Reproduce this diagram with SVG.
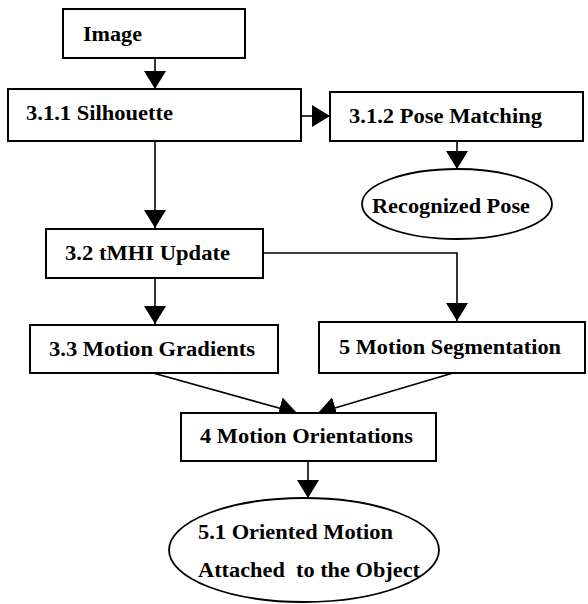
<svg xmlns="http://www.w3.org/2000/svg" width="588" height="604" viewBox="0 0 588 604">
<style>
.box{fill:#fff;stroke:#000;stroke-width:2}
.ell{fill:#fff;stroke:#000;stroke-width:1.8}
.con{fill:none;stroke:#000;stroke-width:1.6}
</style>
<defs>
<marker id="ah" viewBox="0 0 18 22" refX="18" refY="11" markerWidth="18" markerHeight="22" markerUnits="userSpaceOnUse" orient="auto">
<path d="M0,0 L18,11 L0,22 z" fill="#000"/>
</marker>
</defs>
<rect width="588" height="604" fill="#fff"/>
<g id="connectors">
<line class="con" x1="155" y1="58" x2="155" y2="89" marker-end="url(#ah)"/>
<line class="con" x1="301" y1="116" x2="330" y2="116" marker-end="url(#ah)"/>
<line class="con" x1="457" y1="141" x2="457" y2="169" marker-end="url(#ah)"/>
<line class="con" x1="155" y1="141" x2="155" y2="228" marker-end="url(#ah)"/>
<polyline class="con" points="263,253 457,253 457,321" marker-end="url(#ah)"/>
<line class="con" x1="155" y1="278" x2="155" y2="324" marker-end="url(#ah)"/>
<line class="con" x1="153" y1="373" x2="297" y2="413" marker-end="url(#ah)"/>
<line class="con" x1="453" y1="373" x2="318" y2="413" marker-end="url(#ah)"/>
<line class="con" x1="308" y1="461" x2="308" y2="498" marker-end="url(#ah)"/>
</g>
<g id="nodes" font-family="Liberation Serif, Times New Roman, serif" font-weight="bold" font-size="20" fill="#000">
<g id="image">
<rect class="box" x="63" y="9" width="182" height="49"/>
<text x="83" y="41" textLength="59" lengthAdjust="spacingAndGlyphs">Image</text>
</g>
<g id="silhouette">
<rect class="box" x="8" y="89" width="293" height="52"/>
<text x="26" y="120" textLength="147" lengthAdjust="spacingAndGlyphs">3.1.1 Silhouette</text>
</g>
<g id="pose-matching">
<rect class="box" x="330" y="92" width="253" height="49"/>
<text x="349" y="123" textLength="193" lengthAdjust="spacingAndGlyphs">3.1.2 Pose Matching</text>
</g>
<g id="recognized-pose">
<ellipse class="ell" cx="457" cy="204" rx="95" ry="35"/>
<text x="372" y="213" textLength="158" lengthAdjust="spacingAndGlyphs">Recognized Pose</text>
</g>
<g id="tmhi-update">
<rect class="box" x="46" y="229" width="217" height="49"/>
<text x="65" y="260" textLength="165" lengthAdjust="spacingAndGlyphs">3.2 tMHI Update</text>
</g>
<g id="motion-gradients">
<rect class="box" x="30" y="325" width="248" height="48"/>
<text x="49" y="356" textLength="206" lengthAdjust="spacingAndGlyphs">3.3 Motion Gradients</text>
</g>
<g id="motion-segmentation">
<rect class="box" x="319" y="322" width="266" height="51"/>
<text x="339" y="354" textLength="222" lengthAdjust="spacingAndGlyphs">5 Motion Segmentation</text>
</g>
<g id="motion-orientations">
<rect class="box" x="181" y="413" width="255" height="48"/>
<text x="200" y="443" textLength="213" lengthAdjust="spacingAndGlyphs">4 Motion Orientations</text>
</g>
<g id="oriented-motion">
<ellipse class="ell" cx="304" cy="550" rx="135" ry="52"/>
<text x="198" y="539" textLength="195" lengthAdjust="spacingAndGlyphs">5.1 Oriented Motion</text>
<text x="198" y="577" textLength="222" lengthAdjust="spacingAndGlyphs" xml:space="preserve">Attached  to the Object</text>
</g>
</g>
</svg>
